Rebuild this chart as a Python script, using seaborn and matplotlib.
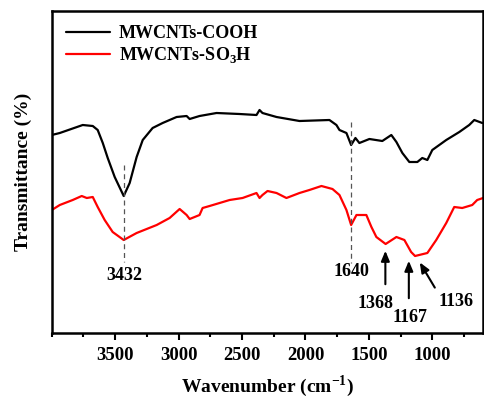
import numpy as np
import pandas as pd
import matplotlib
matplotlib.use("Agg")
import matplotlib.pyplot as plt
from matplotlib.ticker import MultipleLocator
import seaborn as sns

# ---- data (wavenumber cm^-1, transmittance arbitrary units) ----
wn_cooh = [4000, 3937, 3756, 3677, 3638, 3598, 3559, 3504, 3433, 3386, 3331, 3283,
           3205, 3126, 3016, 2937, 2913, 2835, 2701, 2520, 2386, 2362, 2339, 2228,
           2047, 1811, 1756, 1732, 1677, 1640, 1606, 1575, 1496, 1394, 1323, 1283,
           1236, 1181, 1118, 1079, 1039, 1000, 890, 787, 709, 669, 606]
t_cooh = [198, 200, 208, 207, 203, 190, 175, 156, 137, 150, 176, 193,
          205, 210, 216, 217, 214, 217, 220, 219, 218, 223, 220, 216,
          212, 213, 208, 203, 200, 188, 195, 190, 194, 192, 198, 191,
          180, 171, 171, 175, 173, 183, 193, 201, 208, 213, 210]

wn_so3h = [4000, 3937, 3835, 3764, 3724, 3677, 3638, 3583, 3520, 3433, 3331, 3173,
           3071, 2992, 2937, 2913, 2835, 2811, 2756, 2598, 2496, 2386, 2362, 2339,
           2299, 2228, 2150, 2047, 1969, 1874, 1787, 1732, 1677, 1640, 1598, 1520,
           1480, 1441, 1368, 1283, 1220, 1167, 1136, 1039, 969, 890, 827, 764, 685,
           646, 600]
t_so3h = [123, 128, 133, 137, 135, 136, 126, 113, 101, 93, 100, 108,
          115, 124, 118, 114, 118, 125, 127, 133, 135, 140, 135, 138,
          142, 140, 135, 140, 143, 147, 144, 138, 123, 108, 118, 118,
          106, 96, 89, 96, 93, 81, 77, 80, 93, 110, 126, 125, 128,
          133, 135]

series_names = ["MWCNTs-COOH", r"MWCNTs-SO$_{\mathbf{3}}$H"]
xticks = [3500, 3000, 2500, 2000, 1500, 1000]

df = pd.concat([
    pd.DataFrame({"wn": wn_cooh, "T": t_cooh, "sample": series_names[0]}),
    pd.DataFrame({"wn": wn_so3h, "T": t_so3h, "sample": series_names[1]}),
])

sns.set_style("ticks")
plt.rcParams["font.family"] = ["Liberation Serif", "DejaVu Serif"]
plt.rcParams["font.weight"] = "bold"
plt.rcParams["mathtext.fontset"] = "custom"
plt.rcParams["mathtext.rm"] = "Liberation Serif:bold"
plt.rcParams["mathtext.bf"] = "Liberation Serif:bold"
for k in ["text.color", "axes.labelcolor", "xtick.color", "ytick.color", "axes.edgecolor"]:
    plt.rcParams[k] = "black"

fig = plt.figure(figsize=(4.84, 4.00), dpi=100)
ax = fig.add_axes([0.107, 0.1675, 0.891, 0.805])

sns.lineplot(data=df, x="wn", y="T", hue="sample", sort=False,
             palette={series_names[0]: "black", series_names[1]: "#ff0000"},
             linewidth=1.6, ax=ax, estimator=None)

ax.set_xlim(4000, 600)
ax.set_ylim(0, 322)
ax.set_yticks([])
ax.set_xticks(xticks)
ax.xaxis.set_minor_locator(MultipleLocator(250))
ax.tick_params(axis="x", which="major", direction="out", length=5, width=1.5,
               labelsize=13.5, pad=5)
ax.tick_params(axis="x", which="minor", direction="out", length=3, width=1.5)
for lbl in ax.get_xticklabels():
    lbl.set_fontweight("bold")
for s in ax.spines.values():
    s.set_linewidth(1.8)
    s.set_visible(True)

ax.set_xlabel(r"Wavenumber (cm$^{\mathbf{-1}}$)", fontsize=14, fontweight="bold", labelpad=7)
ax.set_ylabel("Transmittance (%)", fontsize=14, fontweight="bold", labelpad=14)

leg = ax.legend(loc="upper left", frameon=False, fontsize=13, handlelength=2.4,
                handletextpad=0.5, borderaxespad=0.4, labelspacing=0.15,
                bbox_to_anchor=(0.0, 1.0))
for line in leg.get_lines():
    line.set_linewidth(1.6)

# annotations
ax.plot([3432, 3432], [168, 71], ls=(0, (4, 3)), color="#555555", lw=0.9)
ax.plot([1640, 1640], [211, 70], ls=(0, (4, 3)), color="#555555", lw=0.9)
ax.text(3432, 57, "3432", ha="center", va="center", fontsize=13, fontweight="bold")
ax.text(1640, 62, "1640", ha="center", va="center", fontsize=13, fontweight="bold")

arrowprops = dict(arrowstyle="-|>,head_length=0.6,head_width=0.25", color="black", lw=1.5)
ax.annotate("", xy=(1370, 85), xytext=(1370, 46), arrowprops=arrowprops)
ax.annotate("", xy=(1185, 75), xytext=(1185, 32), arrowprops=arrowprops)
ax.annotate("", xy=(1110, 73), xytext=(969, 43), arrowprops=arrowprops)
ax.text(1449, 30, "1368", ha="center", va="center", fontsize=13, fontweight="bold")
ax.text(1173, 15, "1167", ha="center", va="center", fontsize=13, fontweight="bold")
ax.text(811, 31, "1136", ha="center", va="center", fontsize=13, fontweight="bold")

fig.savefig("out.png", dpi=100)
